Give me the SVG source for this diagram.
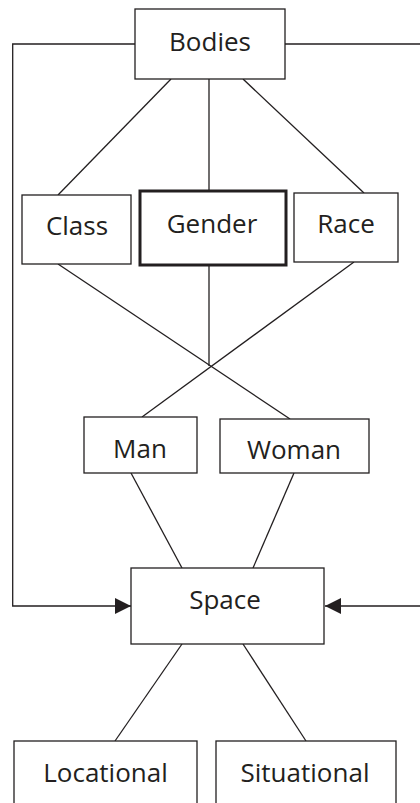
<svg xmlns="http://www.w3.org/2000/svg" width="420" height="803" viewBox="0 0 420 803">
  <style>
    .box { fill: #ffffff; stroke: #231f20; stroke-width: 1.3; }
    .bold { stroke-width: 3; }
    .lbl { font-family: "Open Sans", "Noto Sans", "Liberation Sans", sans-serif; font-size: 26px; fill: #231f20; text-anchor: middle; }
    .link { fill: none; stroke: #231f20; stroke-width: 1.3; }
  </style>
  <defs>
    <marker id="arrow" viewBox="0 0 16 16" refX="16" refY="8" markerUnits="userSpaceOnUse" markerWidth="16" markerHeight="16" orient="auto">
      <path d="M0,0 L16,8 L0,16 Z" fill="#231f20"/>
    </marker>
  </defs>
  <rect width="420" height="803" fill="#ffffff"/>

  <g id="connectors">
    <path class="link" d="M135,44 H12.7 V606 H131" marker-end="url(#arrow)"/>
    <path class="link" d="M285,44 H421 V606 H325" marker-end="url(#arrow)"/>
    <line class="link" x1="171" y1="79" x2="58" y2="195"/>
    <line class="link" x1="209" y1="79" x2="209" y2="191"/>
    <line class="link" x1="243" y1="79" x2="364" y2="193"/>
    <line class="link" x1="58" y1="264" x2="290" y2="419"/>
    <line class="link" x1="354" y1="262" x2="142" y2="417"/>
    <line class="link" x1="209" y1="265" x2="209" y2="366"/>
    <line class="link" x1="131" y1="473" x2="182" y2="568"/>
    <line class="link" x1="294" y1="473" x2="253" y2="568"/>
    <line class="link" x1="182" y1="644" x2="115" y2="741"/>
    <line class="link" x1="243" y1="644" x2="306" y2="741"/>
  </g>

  <g id="bodies">
    <rect class="box" x="135" y="9" width="150" height="70"/>
    <text class="lbl" x="210" y="51">Bodies</text>
  </g>
  <g id="class">
    <rect class="box" x="22" y="195" width="109" height="69"/>
    <text class="lbl" x="77" y="235">Class</text>
  </g>
  <g id="gender">
    <rect class="box bold" x="140" y="191" width="146" height="74"/>
    <text class="lbl" x="212" y="233">Gender</text>
  </g>
  <g id="race">
    <rect class="box" x="294" y="193" width="104" height="69"/>
    <text class="lbl" x="346" y="233">Race</text>
  </g>
  <g id="man">
    <rect class="box" x="84" y="417" width="113" height="56"/>
    <text class="lbl" x="140" y="458">Man</text>
  </g>
  <g id="woman">
    <rect class="box" x="220" y="419" width="149" height="54"/>
    <text class="lbl" x="294" y="459">Woman</text>
  </g>
  <g id="space">
    <rect class="box" x="131" y="568" width="193" height="76"/>
    <text class="lbl" x="225" y="609">Space</text>
  </g>
  <g id="locational">
    <rect class="box" x="14" y="741" width="183" height="80"/>
    <text class="lbl" x="105.5" y="782">Locational</text>
  </g>
  <g id="situational">
    <rect class="box" x="216" y="741" width="180" height="80"/>
    <text class="lbl" x="305" y="782">Situational</text>
  </g>
</svg>
